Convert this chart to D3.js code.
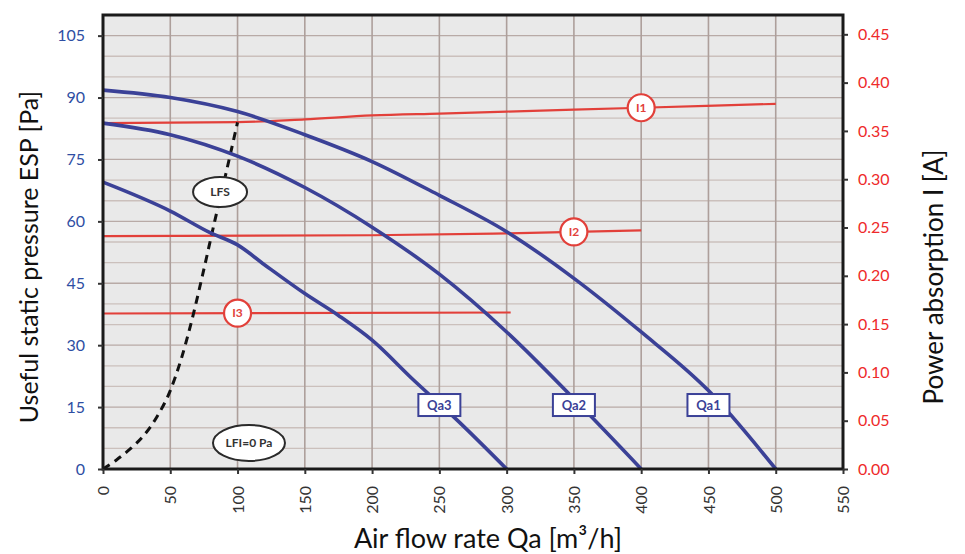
<!DOCTYPE html>
<html>
<head>
<meta charset="utf-8">
<script src="https://cdn.jsdelivr.net/npm/d3@7"></script>
<style>
  html, body { margin: 0; padding: 0; background: #ffffff; }
  svg { display: block; }
  text { font-family: Lato, "Open Sans", "DejaVu Sans", sans-serif; }
</style>
</head>
<body>
<svg id="chart" width="965" height="554"></svg>
<script>
// ---------- DATA ----------
const xTicks = [0, 50, 100, 150, 200, 250, 300, 350, 400, 450, 500, 550];
const yTicksLeft = [0, 15, 30, 45, 60, 75, 90, 105];
const yTicksRight = [0, 0.05, 0.10, 0.15, 0.20, 0.25, 0.30, 0.35, 0.40, 0.45];

// pressure curves [airflow m3/h, pressure Pa]
const qa1 = [[0, 91.8], [50, 90], [100, 86.6], [150, 81], [200, 74.5], [250, 66.3], [300, 57.5], [350, 46.2], [400, 33.2], [450, 19], [500, 0]];
const qa2 = [[0, 83.8], [50, 81], [100, 75.8], [150, 68.2], [200, 58.6], [250, 47.2], [300, 33.2], [350, 17], [400, 0]];
const qa3 = [[0, 69.5], [50, 62.5], [80, 57.2], [100, 54.3], [120, 49.5], [150, 42.5], [175, 37.2], [200, 31.2], [230, 21.8], [264, 11.6], [300, 0]];

// current curves [airflow m3/h, current A]
const i1 = [[0, 0.358], [100, 0.359], [150, 0.362], [200, 0.366], [250, 0.368], [300, 0.370], [400, 0.374], [500, 0.378]];
const i2 = [[0, 0.241], [200, 0.242], [300, 0.244], [400, 0.247]];
const i3 = [[0, 0.161], [303, 0.162]];

// LFS (dashed) curve [airflow, pressure]
const lfs = [[0, 0], [10, 2.2], [20, 4.8], [30, 8], [40, 12.6], [50, 19], [58, 26.5], [66, 36], [74, 47], [83, 60], [92, 72.5], [100, 84]];

// label names and anchor positions (data units)
const qaLabels = [{ name: "Qa1", x: 450, y: 15.5 }, { name: "Qa2", x: 350, y: 15.5 }, { name: "Qa3", x: 250, y: 15.5 }];
const iLabels = [{ name: "I1", x: 400, series: i1 }, { name: "I2", x: 350, series: i2 }, { name: "I3", x: 100, series: i3 }];
const lfsLabel = { name: "LFS", x: 87, y: 67.1 };
const lfiLabel = { name: "LFI=0 Pa", x: 108.5, y: 6.3 };

const titleLeft = "Useful static pressure ESP [Pa]";
const titleRight = "Power absorption I [A]";
const titleBottom = "Air flow rate Qa [m³/h]";

// ---------- CHART ----------
const svg = d3.select("#chart");
const X0 = 103, X1 = 843, Y0 = 469, Y1 = 15;
const x = d3.scaleLinear().domain([0, 550]).range([X0, X1]);
const y = d3.scaleLinear().domain([0, 110]).range([Y0, Y1]);
const yR = d3.scaleLinear().domain([0, 0.47]).range([Y0, Y1]);

const blue = "#3b4197", red = "#e2403a", redText = "#ee2a2a", leftBlue = "#2e4ea3";

// plot background
svg.append("rect").attr("x", X0).attr("y", Y1).attr("width", X1 - X0).attr("height", Y0 - Y1).attr("fill", "#e9e9e9");

// horizontal grid every 5 Pa
const hGrid = d3.range(5, 110, 5);
svg.append("g").selectAll("line").data(hGrid).join("line")
  .attr("x1", X0).attr("x2", X1)
  .attr("y1", d => y(d)).attr("y2", d => y(d))
  .attr("stroke", d => d % 15 === 0 ? "#b8aaa6" : "#cbc0bc")
  .attr("stroke-width", 1.3);

// vertical grid every 50
svg.append("g").selectAll("line").data(xTicks.filter(d => d > 0 && d < 550)).join("line")
  .attr("x1", d => x(d)).attr("x2", d => x(d))
  .attr("y1", Y1).attr("y2", Y0)
  .attr("stroke", "#ad9f9b").attr("stroke-width", 1.6);

// curves
const line = d3.line().x(d => x(d[0])).y(d => y(d[1])).curve(d3.curveMonotoneX);
const lineR = d3.line().x(d => x(d[0])).y(d => yR(d[1])).curve(d3.curveMonotoneX);

[i1, i2, i3].forEach(s => {
  svg.append("path").attr("d", lineR(s)).attr("fill", "none").attr("stroke", red).attr("stroke-width", 2.2);
});

svg.append("path").attr("d", line(lfs)).attr("fill", "none").attr("stroke", "#111")
  .attr("stroke-width", 3).attr("stroke-dasharray", "8,6");

[qa1, qa2, qa3].forEach(s => {
  svg.append("path").attr("d", line(s)).attr("fill", "none").attr("stroke", blue)
    .attr("stroke-width", 3.6).attr("stroke-linejoin", "round");
});

// frame
svg.append("rect").attr("x", X0).attr("y", Y1).attr("width", X1 - X0).attr("height", Y0 - Y1)
  .attr("fill", "none").attr("stroke", "#1a1a1a").attr("stroke-width", 3);

// axes
const axL = svg.append("g").attr("transform", `translate(${X0},0)`)
  .call(d3.axisLeft(y).tickValues(yTicksLeft).tickSize(5).tickPadding(13));
axL.select(".domain").remove();
axL.selectAll("line").attr("stroke", "#333").attr("stroke-width", 2);
axL.selectAll("text").attr("fill", leftBlue).style("font-size", "16px");

const axR = svg.append("g").attr("transform", `translate(${X1},0)`)
  .call(d3.axisRight(yR).tickValues(yTicksRight).tickFormat(d3.format(".2f")).tickSize(5).tickPadding(10));
axR.select(".domain").remove();
axR.selectAll("line").attr("stroke", "#333").attr("stroke-width", 2);
axR.selectAll("text").attr("fill", redText).style("font-size", "16px");

const axB = svg.append("g").attr("transform", `translate(0,${Y0})`)
  .call(d3.axisBottom(x).tickValues(xTicks).tickSize(5));
axB.select(".domain").remove();
axB.selectAll("line").attr("stroke", "#333").attr("stroke-width", 2);
axB.selectAll("text").attr("fill", "#333").style("font-size", "16px")
  .attr("transform", "rotate(-90)").attr("x", -17).attr("y", 0).attr("dy", "0.35em")
  .style("text-anchor", "end");

// current labels (circles)
iLabels.forEach(l => {
  const interp = d3.scaleLinear().domain(l.series.map(d => d[0])).range(l.series.map(d => d[1]));
  const cx = x(l.x), cy = yR(interp(l.x));
  svg.append("circle").attr("cx", cx).attr("cy", cy).attr("r", 13.5)
    .attr("fill", "#fff").attr("stroke", red).attr("stroke-width", 2.2);
  svg.append("text").attr("x", cx).attr("y", cy).attr("dy", "0.36em").attr("text-anchor", "middle")
    .attr("fill", red).style("font-size", "12px").style("font-weight", "bold").text(l.name);
});

// Qa labels (boxes)
qaLabels.forEach(l => {
  const cx = x(l.x), cy = y(l.y);
  svg.append("rect").attr("x", cx - 21).attr("y", cy - 11).attr("width", 42).attr("height", 22)
    .attr("fill", "#fff").attr("stroke", blue).attr("stroke-width", 2);
  svg.append("text").attr("x", cx).attr("y", cy).attr("dy", "0.36em").attr("text-anchor", "middle")
    .attr("fill", blue).style("font-size", "13px").style("font-weight", "bold").text(l.name);
});

// ellipse labels
[[lfsLabel, 27, 15], [lfiLabel, 36, 18]].forEach(([l, rx, ry]) => {
  const cx = x(l.x), cy = y(l.y);
  svg.append("ellipse").attr("cx", cx).attr("cy", cy).attr("rx", rx).attr("ry", ry)
    .attr("fill", "#fff").attr("stroke", "#2a2a2a").attr("stroke-width", 2);
  svg.append("text").attr("x", cx).attr("y", cy).attr("dy", "0.36em").attr("text-anchor", "middle")
    .attr("fill", "#333").style("font-size", "12px").style("font-weight", "bold").text(l.name);
});

// axis titles
svg.append("text").attr("transform", `translate(38,257) rotate(-90)`).attr("text-anchor", "middle")
  .attr("fill", "#111").style("font-size", "25px").text(titleLeft);
svg.append("text").attr("transform", `translate(943,277) rotate(-90)`).attr("text-anchor", "middle")
  .attr("fill", "#111").style("font-size", "26px").text(titleRight);
svg.append("text").attr("x", 488).attr("y", 548).attr("text-anchor", "middle")
  .attr("fill", "#111").style("font-size", "27px").text(titleBottom);
</script>
</body>
</html>
